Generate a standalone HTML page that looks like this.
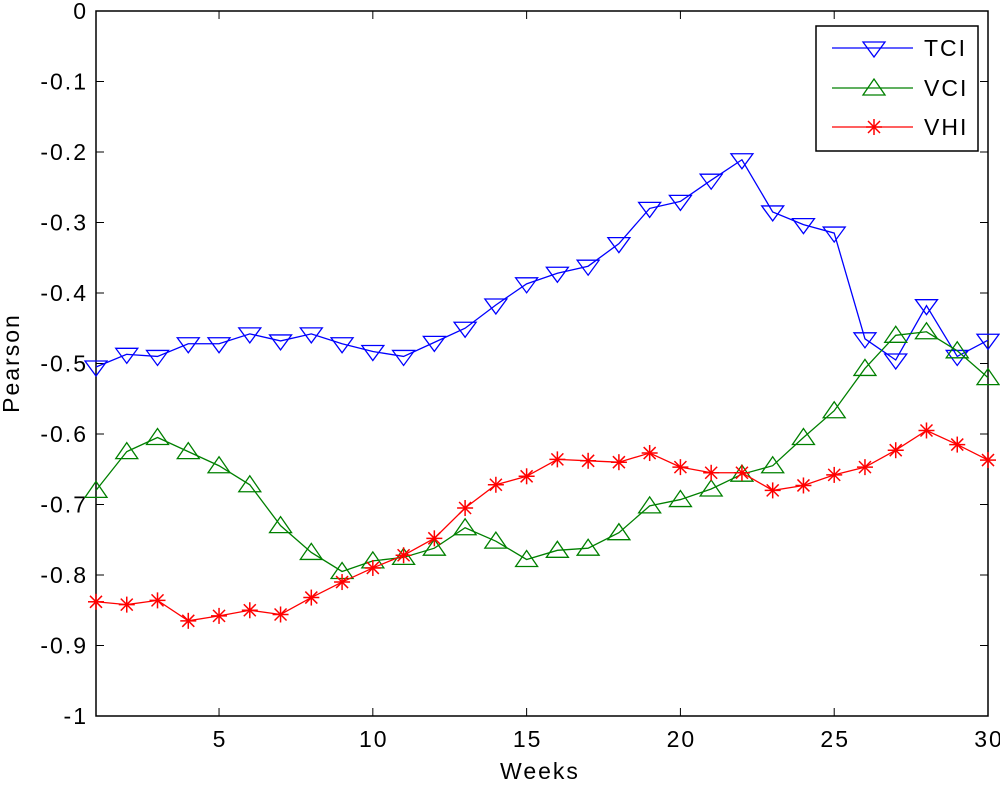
<!DOCTYPE html>
<html><head><meta charset="utf-8"><style>
body{margin:0;background:#fff;}
svg text{font-family:"Liberation Sans",sans-serif;font-size:23px;letter-spacing:2px;fill:#000;}
</style></head><body>
<svg id="chart" width="1000" height="782" viewBox="0 0 1000 782">
<rect x="0" y="0" width="1000" height="782" fill="#fff"/>
<g id="plot"></g>
</svg>
<script>
const weeks=[1,2,3,4,5,6,7,8,9,10,11,12,13,14,15,16,17,18,19,20,21,22,23,24,25,26,27,28,29,30];
const tci=[-0.505,-0.487,-0.49,-0.472,-0.472,-0.458,-0.468,-0.458,-0.472,-0.483,-0.49,-0.47,-0.45,-0.417,-0.387,-0.372,-0.362,-0.33,-0.28,-0.27,-0.24,-0.211,-0.285,-0.303,-0.315,-0.465,-0.495,-0.418,-0.49,-0.467];
const vci=[-0.68,-0.625,-0.605,-0.625,-0.645,-0.672,-0.73,-0.768,-0.795,-0.78,-0.775,-0.762,-0.733,-0.752,-0.778,-0.765,-0.762,-0.74,-0.702,-0.693,-0.678,-0.657,-0.645,-0.605,-0.567,-0.507,-0.46,-0.455,-0.482,-0.52];
const vhi=[-0.838,-0.842,-0.836,-0.865,-0.858,-0.85,-0.856,-0.832,-0.81,-0.79,-0.772,-0.748,-0.705,-0.672,-0.66,-0.636,-0.638,-0.64,-0.627,-0.647,-0.655,-0.655,-0.68,-0.673,-0.658,-0.647,-0.623,-0.595,-0.615,-0.637];
const xTicks=[5,10,15,20,25,30];
const yTicks=[0,-0.1,-0.2,-0.3,-0.4,-0.5,-0.6,-0.7,-0.8,-0.9,-1];
const yTickLabels=["0","-0.1","-0.2","-0.3","-0.4","-0.5","-0.6","-0.7","-0.8","-0.9","-1"];

const L=96,R=988,T=11,B=716;
const xs=v=>L+(v-1)/(30-1)*(R-L);
const ys=v=>T+(0-v)/(0-(-1))*(B-T);
const NS="http://www.w3.org/2000/svg";
const g=document.getElementById('plot');
function mk(tag,attrs,parent){const e=document.createElementNS(NS,tag);for(const k in attrs)e.setAttribute(k,attrs[k]);(parent||g).appendChild(e);return e;}

const box=mk('rect',{x:L,y:T,width:R-L,height:B-T,fill:'none',stroke:'#000','stroke-width':1.5});



xTicks.forEach(t=>{
  const x=xs(t);
  mk('line',{x1:x,y1:B,x2:x,y2:B-8,stroke:'#000'});
  mk('line',{x1:x,y1:T,x2:x,y2:T+8,stroke:'#000'});
  const tx=mk('text',{x:x+1,y:747,'text-anchor':'middle'});tx.textContent=t;
  
  
});
yTicks.forEach((t,i)=>{
  const y=ys(t);
  mk('line',{x1:L,y1:y,x2:L+8,y2:y,stroke:'#000'});
  mk('line',{x1:R,y1:y,x2:R-8,y2:y,stroke:'#000'});
  const tx=mk('text',{x:88,y:y+8,'text-anchor':'end'});tx.textContent=yTickLabels[i];
  
  
});
const xt=mk('text',{x:540,y:779,'text-anchor':'middle'});xt.textContent='Weeks';


const yt=mk('text',{x:0,y:0,'text-anchor':'middle',transform:'translate(19,363) rotate(-90)'});yt.textContent='Pearson';



function marker(type,x,y,color,parent){
  if(type==='down') return mk('polygon',{points:`${x-11},${y-6} ${x+11},${y-6} ${x},${y+9}`,fill:'none',stroke:color,'stroke-width':1.3},parent);
  if(type==='up') return mk('polygon',{points:`${x-11},${y+7} ${x+11},${y+7} ${x},${y-9}`,fill:'none',stroke:color,'stroke-width':1.3},parent);
  const s=mk('g',{stroke:color,'stroke-width':1.5},parent);
  mk('line',{x1:x-8,y1:y,x2:x+8,y2:y},s);mk('line',{x1:x,y1:y-8,x2:x,y2:y+8},s);
  mk('line',{x1:x-6,y1:y-6,x2:x+6,y2:y+6},s);mk('line',{x1:x-6,y1:y+6,x2:x+6,y2:y-6},s);
  return s;
}
function series(vals,color,type,name){
  const sg=mk('g',{});
  
  
  mk('polyline',{points:vals.map((v,i)=>xs(weeks[i])+','+ys(v)).join(' '),fill:'none',stroke:color,'stroke-width':1.3},sg);
  vals.forEach((v,i)=>{const m=marker(type,xs(weeks[i]),ys(v),color,sg);
    
    });
}
series(tci,'#0000ff','down','tci');
series(vci,'#008000','up','vci');
series(vhi,'#ff0000','star','vhi');

const lg=mk('g',{});


mk('rect',{x:816,y:26,width:162,height:125,fill:'#fff',stroke:'#000','stroke-width':1.5},lg);
const leg=[['TCI','#0000ff','down',48],['VCI','#008000','up',88],['VHI','#ff0000','star',127]];
leg.forEach(([n,c,t,y])=>{
  const e=mk('g',{},lg);
  
  
  mk('line',{x1:832,y1:y,x2:913,y2:y,stroke:c,'stroke-width':1.3},e);
  marker(t,874,y,c,e);
  const tx=mk('text',{x:924,y:y+8},e);tx.textContent=n;
});
</script>
</body></html>
